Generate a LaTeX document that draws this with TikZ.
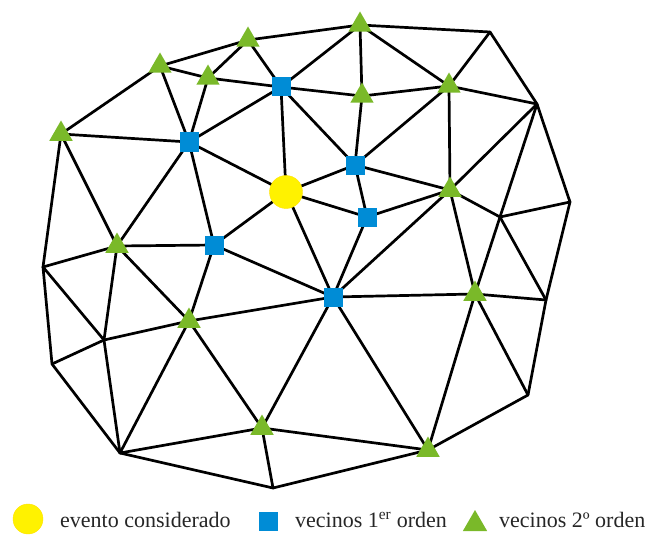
\documentclass[tikz,border=0pt]{standalone}
\usepackage{fontspec}
\setmainfont{Liberation Serif}
\usetikzlibrary{shapes.geometric}
\definecolor{evyellow}{RGB}{255,242,0}
\definecolor{nbblue}{RGB}{0,140,214}
\definecolor{nbgreen}{RGB}{122,185,41}
\tikzset{
  edge/.style={line width=2.7pt, black, line cap=round, line join=round},
  evento/.style={circle, fill=evyellow, draw=evyellow!85!orange, line width=0.4pt, minimum size=33pt, inner sep=0pt},
  primero/.style={rectangle, fill=nbblue, minimum size=19pt, inner sep=0pt},
  segundo/.style={regular polygon, regular polygon sides=3, fill=nbgreen, minimum size=27pt, inner sep=0pt},
  legtext/.style={anchor=base west, inner sep=0pt, text=black!85, font=\fontsize{22}{26}\selectfont}
}
\begin{document}
\begin{tikzpicture}[x=1pt,y=-1pt]
\useasboundingbox (0,0) rectangle (646,535);
% mesh vertices
\coordinate (T1) at (61,134);
\coordinate (T2) at (160,66);
\coordinate (T3) at (208,78);
\coordinate (T4) at (248,40);
\coordinate (T6) at (360,25);
\coordinate (N1) at (490,32);
\coordinate (S1) at (281,87);
\coordinate (T7) at (362,96);
\coordinate (T8) at (449,86);
\coordinate (N2) at (537,104);
\coordinate (S2) at (189,142);
\coordinate (C)  at (286,192);
\coordinate (S4) at (355,165);
\coordinate (S5) at (367,217);
\coordinate (T9) at (450,190);
\coordinate (N3) at (570,202);
\coordinate (N4) at (500,217);
\coordinate (N5) at (43,267);
\coordinate (T5) at (117,246);
\coordinate (S3) at (214,245);
\coordinate (S6) at (333,297);
\coordinate (T12) at (475,294);
\coordinate (N9) at (546,300);
\coordinate (T10) at (189,321);
\coordinate (N6) at (104,340);
\coordinate (N7) at (52,364);
\coordinate (N8) at (120,453);
\coordinate (T11) at (262,428);
\coordinate (N11) at (273,488);
\coordinate (T13) at (428,450);
\coordinate (N10) at (528,395);
% outer boundary
\foreach \a/\b in {T1/T2, T2/T4, T4/T6, T6/N1, N1/N2, N2/N3, N3/N9, N9/N10,
                   N10/T13, T13/N11, N11/N8, N8/N7, N7/N5, N5/T1}
  \draw[edge] (\a) -- (\b);
% inner edges
\foreach \a/\b in {T2/T3, T3/S1, T3/T4, T4/S1, T2/S2, T3/S2, T1/S2, S1/S2, S1/C, S2/C,
                   T1/T5, S2/T5, S2/S3, C/S3, C/S6, S1/S4, S1/T7, S1/T6, C/S4, C/S5,
                   T6/T7, T6/T8, T7/T8, N1/T8, T8/N2, T7/S4, T8/S4, T8/T9, S4/S5, S4/T9,
                   S5/T9, N2/T9, N2/N4, N3/N4, T9/N4, S5/S6, T9/S6, T9/T12, N4/T12, N4/N9,
                   T12/N9, T12/N10, T12/T13, S6/T12, S6/T13, S6/T11, S3/S6, T10/S6,
                   N5/T5, N5/N6, T5/N6, T5/T10, T5/S3, S3/T10, T10/N6, T10/T11, T10/N8,
                   N6/N7, N6/N8, N8/T11, T11/N11, T11/T13}
  \draw[edge] (\a) -- (\b);
% markers
\node[evento] (mC) at (C) {};
\foreach \p in {S1, S2, S3, S4, S5, S6}
  \node[primero] (m\p) at (\p) {};
\foreach \p in {T1, T2, T3, T4, T5, T6, T7, T8, T9, T10, T11, T12, T13}
  \node[segundo] (m\p) at (\p) {};
% legend
\node[evento, minimum size=30pt] (lgC) at (28,519) {};
\node[legtext] (lgCt) at (60,527) {evento considerado};
\node[primero, minimum size=19pt] (lgS) at (268,521) {};
\node[legtext] (lgSt) at (295,527) {vecinos 1\textsuperscript{er} orden};
\node[segundo, minimum size=28pt] (lgT) at (475,524) {};
\node[legtext] (lgTt) at (499,527) {vecinos 2º orden};
\end{tikzpicture}
\end{document}
